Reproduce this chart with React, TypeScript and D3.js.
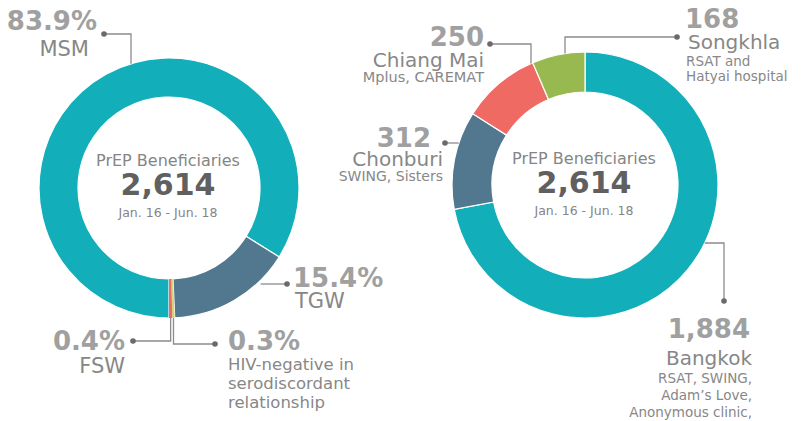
import React from 'react';
import * as d3 from 'd3';

// left ring: share of beneficiaries by group (%)
const groupNames = [['MSM'], ['TGW'], ['HIV-negative in', 'serodiscordant', 'relationship'], ['FSW']];
const groupShares = [83.9, 15.4, 0.3, 0.4];
const groupColors = ['#12afbb', '#52788f', '#d4d47c', '#ee6a62'];

// right ring: beneficiaries by province
const regionNames = ['Bangkok', 'Chonburi', 'Chiang Mai', 'Songkhla'];
const regionCounts = [1884, 312, 250, 168];
const regionPartners = [
  ['RSAT, SWING,', 'Adam\u2019s Love,', 'Anonymous clinic,'],
  ['SWING, Sisters'],
  ['Mplus, CAREMAT'],
  ['RSAT and', 'Hatyai hospital'],
];
const regionColors = ['#12afbb', '#52788f', '#ee6a62', '#97b94f'];

const centerTitle = 'PrEP Beneficiaries';
const centerPeriod = 'Jan. 16 - Jun. 18';

const FONT = '"DejaVu Sans", sans-serif';
const VALUE_FILL = '#a0a0a0';
const NAME_FILL = '#878787';
const LINE = '#8c8c8c';

type Slice = d3.PieArcDatum<number>;

function ringY(cx, cy, R, x, sign) {
  return cy + sign * Math.sqrt(R * R - (x - cx) * (x - cx));
}
function ringX(cx, cy, R, y, sign) {
  return cx + sign * Math.sqrt(R * R - (y - cy) * (y - cy));
}
function midX(cx, R, s: Slice) {
  return cx + R * Math.sin((s.startAngle + s.endAngle) / 2);
}

function Donut({ cx, cy, R, r, slices, colors }) {
  const arc = d3.arc<Slice>().innerRadius(r).outerRadius(R);
  return (
    <g transform={`translate(${cx},${cy})`}>
      {slices.map((s, i) => (
        <path
          key={i}
          d={arc(s) || ''}
          fill={colors[i]}
          stroke="#fff"
          strokeWidth={s.endAngle - s.startAngle > 0.1 ? 1.2 : 0}
        />
      ))}
    </g>
  );
}

function Center({ x, y, total }) {
  return (
    <g fontFamily={FONT} textAnchor="middle">
      <text x={x} y={y - 22} fontSize={16} fill="#858585">{centerTitle}</text>
      <text x={x} y={y + 7} fontSize={30} fontWeight="bold" fill="#606060">{total}</text>
      <text x={x} y={y + 29} fontSize={12.5} fill="#858585">{centerPeriod}</text>
    </g>
  );
}

function Leader({ pts }) {
  const last = pts[pts.length - 1];
  return (
    <g>
      <path d={d3.line()(pts) || ''} fill="none" stroke={LINE} strokeWidth={1.3} />
      <circle cx={last[0]} cy={last[1]} r={2.8} fill="#6a6a6a" />
    </g>
  );
}

function Label({ x, anchor, value, valueY, valueSize = 26, lines }) {
  return (
    <g fontFamily={FONT} textAnchor={anchor}>
      <text x={x + (value.dx || 0)} y={valueY} fontSize={valueSize} fontWeight="bold" fill={VALUE_FILL}>
        {value.text}
      </text>
      {lines.map((l, i) => (
        <text key={i} x={x + (l.dx || 0)} y={l.y} fontSize={l.size} fill={l.fill || NAME_FILL}>
          {l.text}
        </text>
      ))}
    </g>
  );
}

export default function App() {
  const L = { cx: 169, cy: 188, R: 130, r: 91 };
  const Rt = { cx: 585, cy: 185, R: 133, r: 93 };

  const leftSlices = d3.pie<number>().sort(null).startAngle(Math.PI).endAngle(3 * Math.PI)(groupShares);
  const rightSlices = d3.pie<number>().sort(null)(regionCounts);
  const total = d3.format(',')(d3.sum(regionCounts));
  const pct = (v) => d3.format('.1f')(v) + '%';
  const cnt = d3.format(',');

  // leader geometry
  const msmX = 131;
  const fswX = midX(L.cx, L.R, leftSlices[3]);
  const hivX = midX(L.cx, L.R, leftSlices[2]);
  const tgwY = 284;
  const songX = 565;
  const chiangX = 531;
  const chonY = 143;
  const bkkY = 243;

  return (
    <div style={{ position: 'absolute', left: 0, top: 0 }}>
      <svg width={801} height={421} style={{ display: 'block', background: '#fff' }}>
        <Donut {...L} slices={leftSlices} colors={groupColors} />
        <Donut {...Rt} slices={rightSlices} colors={regionColors} />
        <Center x={L.cx - 1} y={L.cy} total={total} />
        <Center x={Rt.cx - 1} y={Rt.cy + 1} total={total} />

        {/* left ring annotations */}
        <Leader pts={[[msmX, ringY(L.cx, L.cy, L.R, msmX, -1)], [msmX, 34], [104, 34]]} />
        <Label x={97} anchor="end" value={{ text: pct(groupShares[0]) }} valueY={30}
          lines={[{ text: groupNames[0][0], y: 56, size: 21, dx: -8 }]} />

        <Leader pts={[[ringX(L.cx, L.cy, L.R, tgwY, 1) + 4, tgwY], [287, tgwY]]} />
        <Label x={293} anchor="start" value={{ text: pct(groupShares[1]) }} valueY={287}
          lines={[{ text: groupNames[1][0], y: 308, size: 21, dx: 2 }]} />

        <Leader pts={[[fswX, L.cy + L.R], [fswX, 341], [133, 341]]} />
        <Label x={125} anchor="end" value={{ text: pct(groupShares[3]) }} valueY={350}
          lines={[{ text: groupNames[3][0], y: 373, size: 21 }]} />

        <Leader pts={[[hivX, L.cy + L.R], [hivX, 344], [215, 344]]} />
        <Label x={228} anchor="start" value={{ text: pct(groupShares[2]) }} valueY={350}
          lines={groupNames[2].map((t, i) => ({ text: t, y: 370 + i * 19, size: 16.5 }))} />

        {/* right ring annotations */}
        <Leader pts={[[songX, ringY(Rt.cx, Rt.cy, Rt.R, songX, -1)], [songX, 37], [677, 37]]} />
        <Label x={685} anchor="start" value={{ text: cnt(regionCounts[3]) }} valueY={28}
          lines={[
            { text: regionNames[3], y: 49, size: 20, dx: 3 },
            ...regionPartners[3].map((t, i) => ({ text: t, y: 66 + i * 15, size: 13.5, dx: 1 })),
          ]} />

        <Leader pts={[[chiangX, ringY(Rt.cx, Rt.cy, Rt.R, chiangX, -1)], [chiangX, 44], [490, 44]]} />
        <Label x={484} anchor="end" value={{ text: cnt(regionCounts[2]) }} valueY={46}
          lines={[
            { text: regionNames[2], y: 67, size: 20 },
            ...regionPartners[2].map((t, i) => ({ text: t, y: 82 + i * 15, size: 14.5 })),
          ]} />

        <Leader pts={[[ringX(Rt.cx, Rt.cy, Rt.R, chonY, -1), chonY], [445, chonY]]} />
        <Label x={443} anchor="end" value={{ text: cnt(regionCounts[1]), dx: -12 }} valueY={147}
          lines={[
            { text: regionNames[1], y: 166, size: 20 },
            ...regionPartners[1].map((t, i) => ({ text: t, y: 181 + i * 15, size: 14 })),
          ]} />

        <Leader pts={[[ringX(Rt.cx, Rt.cy, Rt.R, bkkY, 1), bkkY], [724, bkkY], [724, 301]]} />
        <Label x={752} anchor="end" value={{ text: cnt(regionCounts[0]), dx: -2 }} valueY={338}
          lines={[
            { text: regionNames[0], y: 365, size: 20 },
            ...regionPartners[0].map((t, i) => ({ text: t, y: 383 + i * 17, size: 13.5 })),
          ]} />
      </svg>
    </div>
  );
}
